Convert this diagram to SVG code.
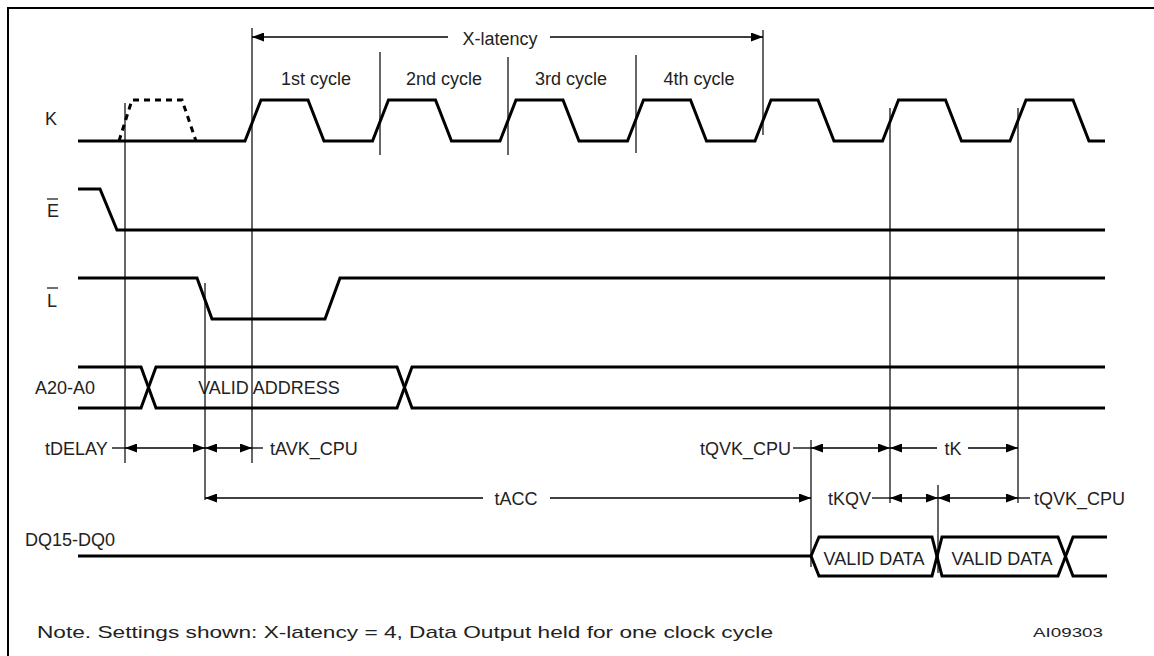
<svg xmlns="http://www.w3.org/2000/svg" width="1154" height="656" viewBox="0 0 1154 656">
<style>
text{font-family:"Liberation Sans",Arial,sans-serif;font-size:18px;fill:#222}
.sig{fill:none;stroke:#000;stroke-width:3;stroke-linejoin:miter}
.vl{fill:none;stroke:#000;stroke-width:1.2}
.dim{fill:none;stroke:#000;stroke-width:1.3}
.mid{text-anchor:middle}
.end{text-anchor:end}
</style>
<defs>
<marker id="ah" viewBox="0 0 12 9" refX="12" refY="4.5" markerWidth="12" markerHeight="9" markerUnits="userSpaceOnUse" orient="auto-start-reverse">
<path d="M0,0 L12,4.5 L0,9 Z" fill="#000"/>
</marker>
</defs>
<rect width="1154" height="656" fill="#fff"/>
<g id="frame">
<path d="M8,656 V8 H1154" fill="none" stroke="#000" stroke-width="2"/>
</g>
<g id="sig-K">
<text x="45" y="125">K</text>
<path class="sig" d="M78,141 H245 L261,100 H308 L324,141 H372.5 L388.5,100 H435.5 L451.5,141 H500 L516,100 H563 L579,141 H627.5 L643.5,100 H690.5 L706.5,141 H755 L771,100 H818 L834,141 H882.5 L898.5,100 H945.5 L961.5,141 H1010 L1026,100 H1073 L1089,141 H1105"/>
<path class="sig" d="M119,141 L132,100 H182 L196,141" stroke-dasharray="6 5"/>
</g>
<g id="sig-E">
<text x="47" y="217">E</text>
<line x1="47" y1="199" x2="58" y2="199" stroke="#222" stroke-width="1.3"/>
<path class="sig" d="M78,189 H100 L117,230 H1105"/>
</g>
<g id="sig-L">
<text x="47" y="307">L</text>
<line x1="47" y1="288" x2="58" y2="288" stroke="#222" stroke-width="1.3"/>
<path class="sig" d="M78,278 H197 L212,319 H325 L340,278 H1105"/>
</g>
<g id="sig-A">
<text x="35" y="394">A20-A0</text>
<path class="sig" d="M78,367 H141 L156,408 H397 L412,367 H1105"/>
<path class="sig" d="M78,408 H141 L156,367 H397 L412,408 H1105"/>
<text class="mid" x="269" y="394">VALID ADDRESS</text>
</g>
<g id="sig-DQ">
<text x="25" y="546">DQ15-DQ0</text>
<path class="sig" d="M78,556 H811 L819,537 H932 L942,576 H1058 L1073,537 H1107"/>
<path class="sig" d="M811,556 L819,576 H932 L942,537 H1058 L1073,576 H1107"/>
<text class="mid" x="874" y="565">VALID DATA</text>
<text class="mid" x="1002" y="565">VALID DATA</text>
</g>
<g id="connectors">
<line class="vl" x1="125" y1="103" x2="125" y2="463"/>
<line class="vl" x1="252" y1="28" x2="252" y2="463"/>
<line class="vl" x1="380" y1="52" x2="380" y2="155"/>
<line class="vl" x1="508" y1="57" x2="508" y2="155"/>
<line class="vl" x1="636" y1="55" x2="636" y2="153"/>
<line class="vl" x1="763" y1="30" x2="763" y2="135"/>
<line class="vl" x1="205" y1="283" x2="205" y2="500"/>
<line class="vl" x1="890" y1="108" x2="890" y2="503"/>
<line class="vl" x1="1018" y1="108" x2="1018" y2="503"/>
<line class="vl" x1="811" y1="440" x2="811" y2="567"/>
<line class="vl" x1="938" y1="485" x2="938" y2="573"/>
<line class="dim" x1="448" y1="37" x2="252" y2="37" marker-end="url(#ah)"/>
<line class="dim" x1="550" y1="37" x2="763" y2="37" marker-end="url(#ah)"/>
<line class="dim" x1="112" y1="448" x2="125" y2="448"/>
<line class="dim" x1="125" y1="448" x2="205" y2="448" marker-start="url(#ah)" marker-end="url(#ah)"/>
<line class="dim" x1="205" y1="448" x2="252" y2="448" marker-start="url(#ah)" marker-end="url(#ah)"/>
<line class="dim" x1="252" y1="448" x2="263" y2="448"/>
<line class="dim" x1="793" y1="448" x2="811" y2="448"/>
<line class="dim" x1="811" y1="448" x2="890" y2="448" marker-start="url(#ah)" marker-end="url(#ah)"/>
<line class="dim" x1="937" y1="448" x2="890" y2="448" marker-end="url(#ah)"/>
<line class="dim" x1="968" y1="448" x2="1018" y2="448" marker-end="url(#ah)"/>
<line class="dim" x1="483" y1="498" x2="205" y2="498" marker-end="url(#ah)"/>
<line class="dim" x1="550" y1="498" x2="811" y2="498" marker-end="url(#ah)"/>
<line class="dim" x1="872" y1="498" x2="890" y2="498"/>
<line class="dim" x1="890" y1="498" x2="938" y2="498" marker-start="url(#ah)" marker-end="url(#ah)"/>
<line class="dim" x1="938" y1="498" x2="1018" y2="498" marker-start="url(#ah)" marker-end="url(#ah)"/>
<line class="dim" x1="1018" y1="498" x2="1030" y2="498"/>
</g>
<g id="labels">
<text class="mid" x="500" y="45">X-latency</text>
<text class="mid" x="316" y="85">1st cycle</text>
<text class="mid" x="444" y="85">2nd cycle</text>
<text class="mid" x="571" y="85">3rd cycle</text>
<text class="mid" x="699" y="85">4th cycle</text>
<text x="45" y="455">tDELAY</text>
<text x="270" y="455">tAVK_CPU</text>
<text class="end" x="791" y="455">tQVK_CPU</text>
<text class="mid" x="953" y="455">tK</text>
<text class="mid" x="516" y="505">tACC</text>
<text class="end" x="871" y="505">tKQV</text>
<text x="1034" y="505">tQVK_CPU</text>
<text x="37" y="638" style="font-size:17px" textLength="736" lengthAdjust="spacingAndGlyphs">Note. Settings shown: X-latency = 4, Data Output held for one clock cycle</text>
<text x="1033" y="637" style="font-size:13px" textLength="70" lengthAdjust="spacingAndGlyphs">AI09303</text>
</g>
</svg>
